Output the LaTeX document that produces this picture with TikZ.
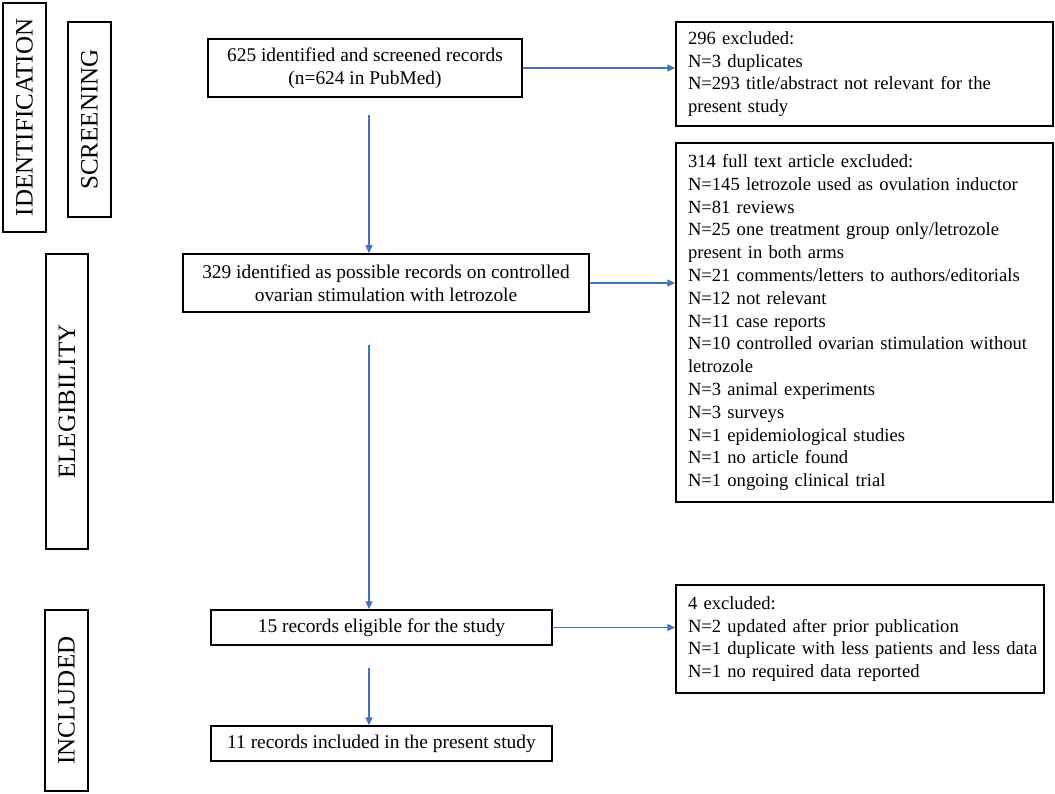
\documentclass[tikz,border=0pt]{standalone}
\usepackage{fontspec}
\setmainfont{Liberation Serif}
\usetikzlibrary{arrows.meta}
\definecolor{arrblue}{RGB}{68,114,196}
\begin{document}
\begin{tikzpicture}[x=1pt,y=-1pt,
  box/.style={draw=black,line width=1.5pt,rectangle,inner sep=0pt,
    font=\fontsize{19.4}{22.8}\selectfont,align=center},
  exbox/.style={draw=black,line width=1.5pt,rectangle,inner xsep=12pt,inner ysep=0pt,
    font=\fontsize{18.6}{22.8}\selectfont,align=left},
  stage/.style={draw=black,line width=1.5pt,rectangle,inner sep=0pt,
    font=\fontsize{25}{28}\selectfont,rotate=90},
  arr/.style={draw=arrblue,line width=1.2pt,-{Triangle[length=8pt,width=7pt]}}]
\useasboundingbox (0,0) rectangle (1055,794);
% stage labels
\node[stage,minimum width=229pt,minimum height=43pt] (sid) at (24.5,117.5) {IDENTIFICATION};
\node[stage,minimum width=195pt,minimum height=43pt] (ssc) at (89.5,119.5) {SCREENING};
\node[stage,minimum width=295pt,minimum height=42pt] (sel) at (67,401.5) {ELEGIBILITY};
\node[stage,minimum width=181pt,minimum height=43pt] (sin) at (66.5,700.5) {INCLUDED};
% main boxes
\node[box,minimum width=314pt,minimum height=58pt] (b1) at (365,68) {625 identified and screened records\\(n=624 in PubMed)};
\node[box,minimum width=406pt,minimum height=58pt] (b2) at (386,283) {329 identified as possible records on controlled\\ovarian stimulation with letrozole};
\node[box,minimum width=341pt,minimum height=35pt] (b3) at (381.5,627.5) {15 records eligible for the study};
\node[box,minimum width=341pt,minimum height=35pt] (b4) at (381.5,743.5) {11 records included in the present study};
% exclusion boxes
\node[exbox,minimum width=377pt,minimum height=104pt,text width=353pt] (r1) at (864.5,74) {296 excluded:\\N=3 duplicates\\N=293 title/abstract not relevant for the\\present study};
\node[exbox,minimum width=377pt,minimum height=359pt,text width=353pt] (r2) at (864.5,322.5) {314 full text article excluded:\\N=145 letrozole used as ovulation inductor\\N=81 reviews\\N=25 one treatment group only/letrozole\\present in both arms\\N=21 comments/letters to authors/editorials\\N=12 not relevant\\N=11 case reports\\N=10 controlled ovarian stimulation without\\letrozole\\N=3 animal experiments\\N=3 surveys\\N=1 epidemiological studies\\N=1 no article found\\N=1 ongoing clinical trial};
\node[exbox,minimum width=368pt,minimum height=108pt,text width=344pt] (r3) at (860,639) {4 excluded:\\N=2 updated after prior publication\\\mbox{N=1 duplicate with less patients and less data}\\N=1 no required data reported};
% vertical arrows
\coordinate (v1) at (369,115);
\coordinate (v2) at (369,345);
\coordinate (v3) at (369,668);
\draw[arr] (v1) -- (v1 |- b2.north);
\draw[arr] (v2) -- (v2 |- b3.north);
\draw[arr] (v3) -- (v3 |- b4.north);
% horizontal arrows
\draw[arr] (b1.east) -- (b1.east -| r1.west);
\draw[arr] (b2.east) -- (b2.east -| r2.west);
\draw[arr] (b3.east) -- (b3.east -| r3.west);
\end{tikzpicture}
\end{document}
